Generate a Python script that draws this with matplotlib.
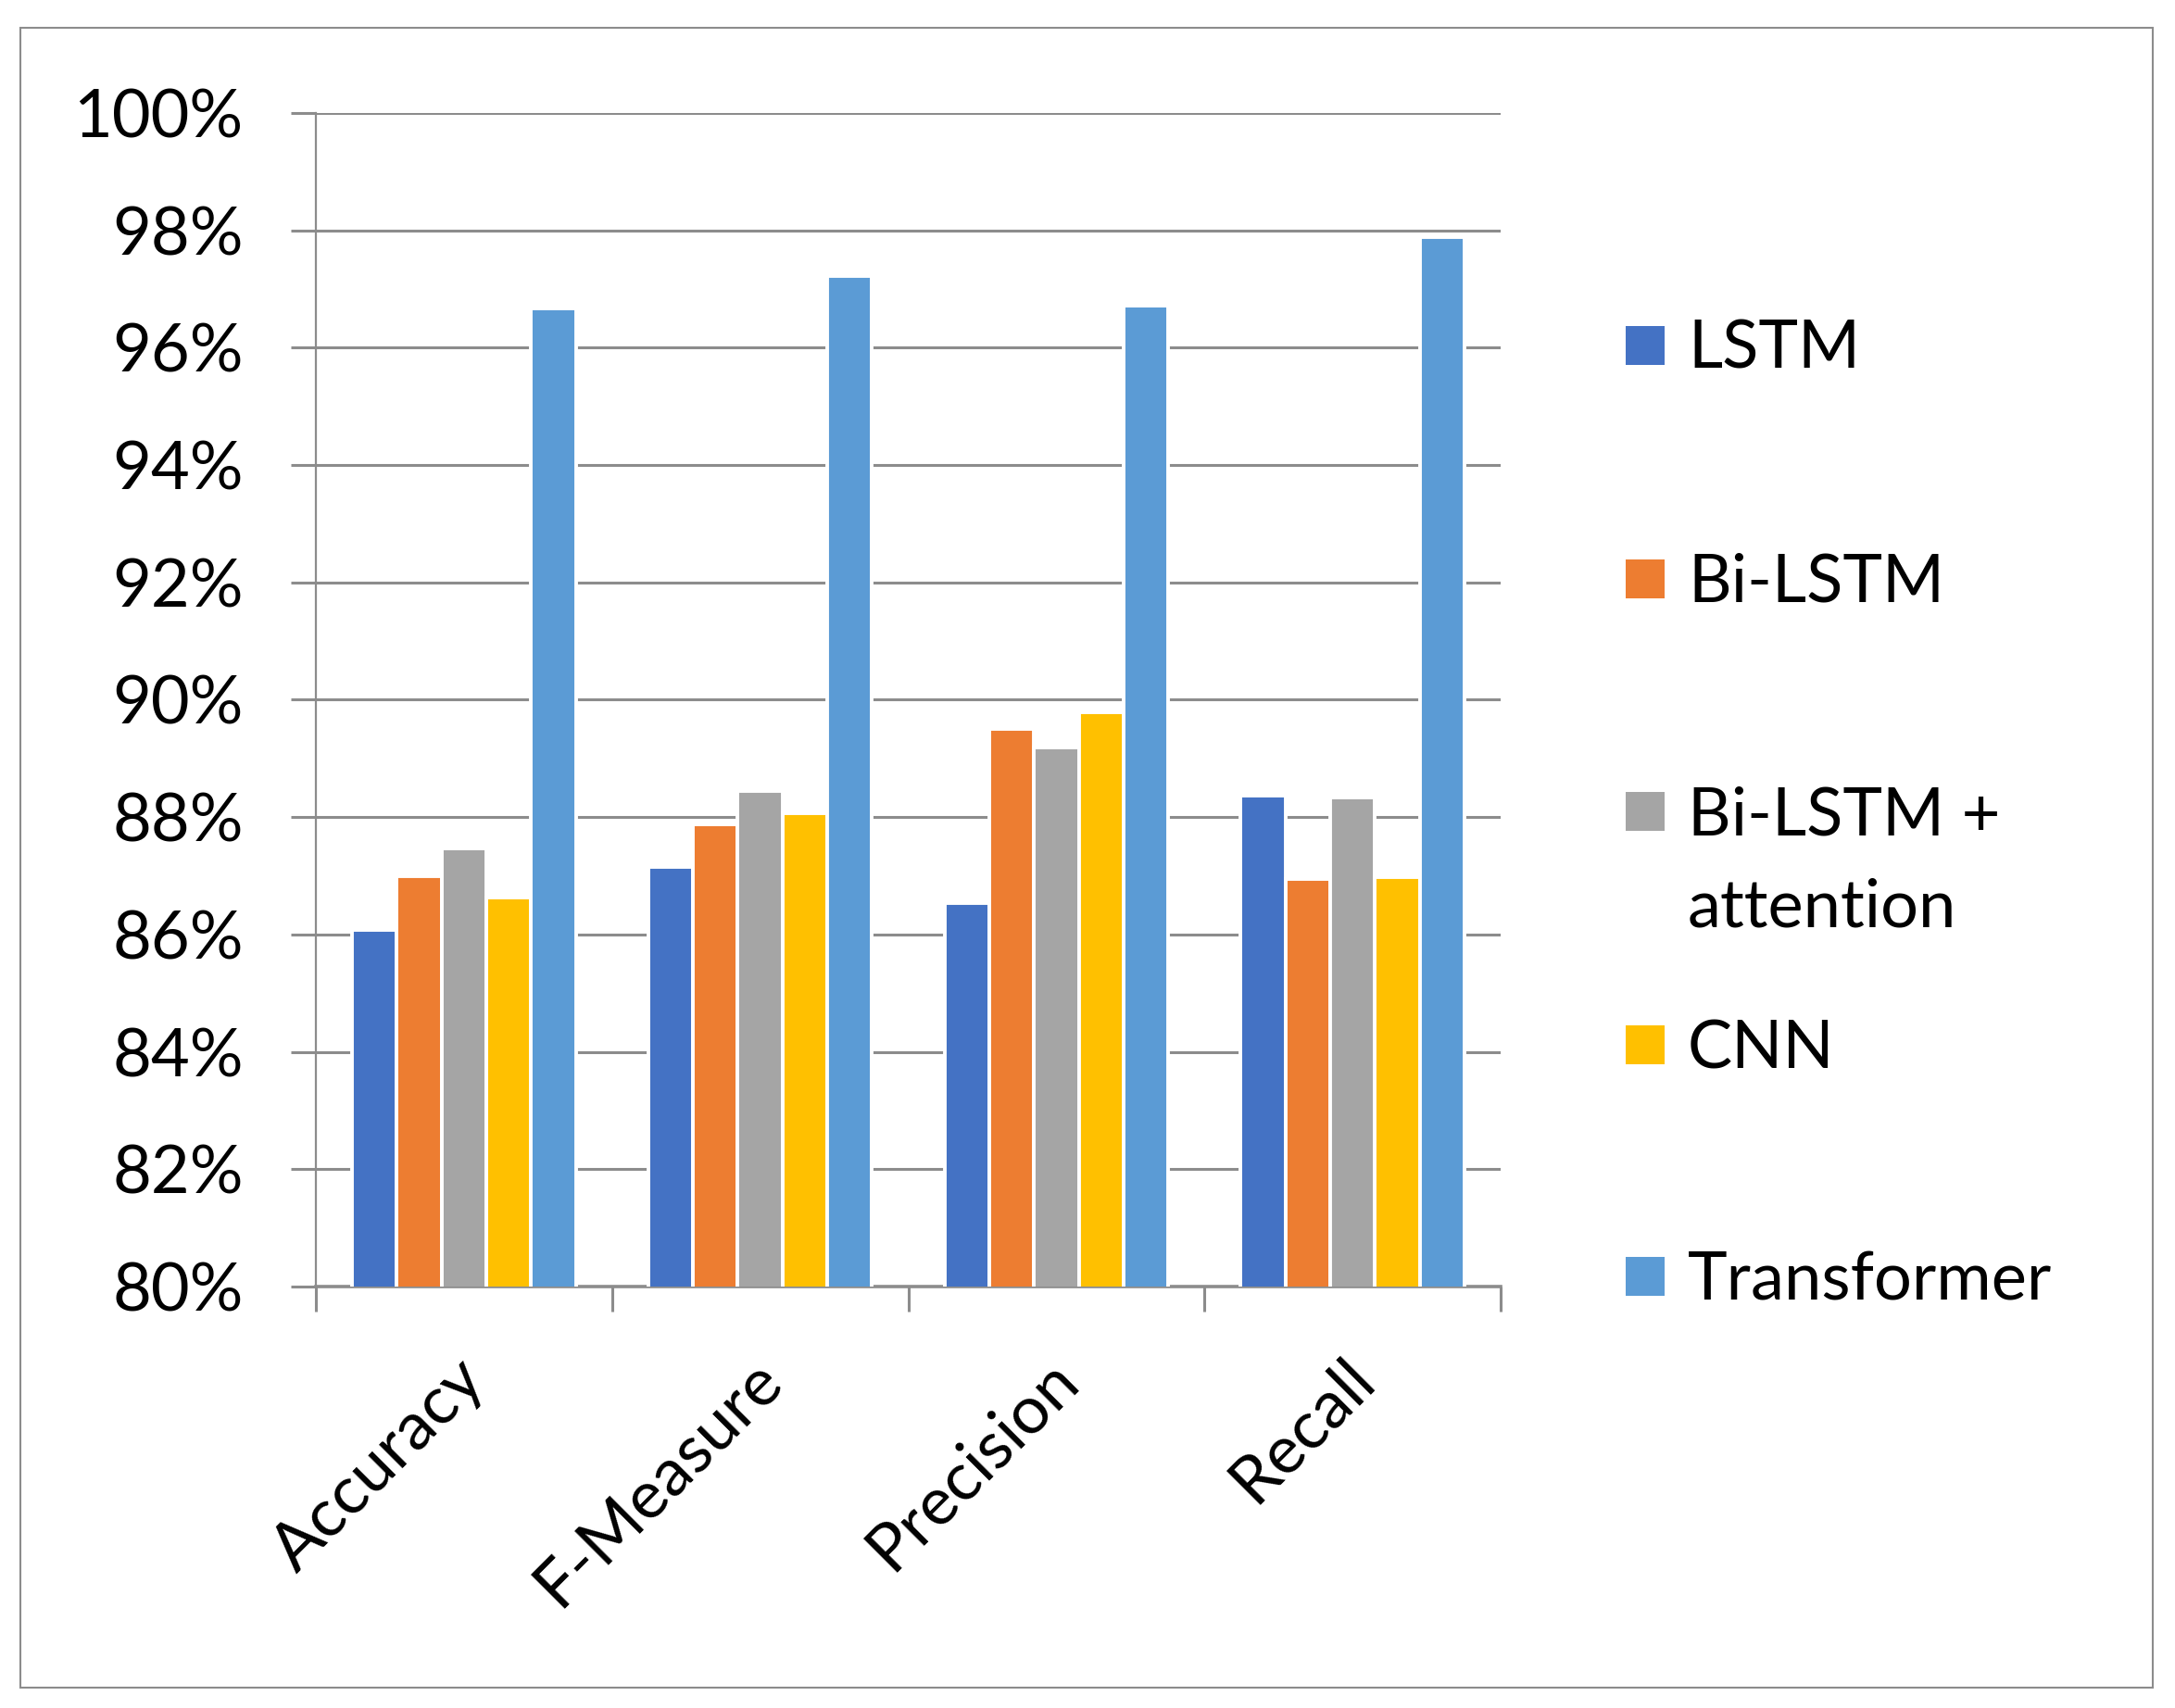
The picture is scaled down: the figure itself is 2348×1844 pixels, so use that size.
import matplotlib
matplotlib.use('Agg')
import matplotlib.pyplot as plt
import matplotlib.transforms as mtransforms
from matplotlib.patches import Rectangle
import numpy as np

plt.rcParams['font.family'] = ['Lato', 'DejaVu Sans']

# -------------------------- data --------------------------
categories = ['Accuracy', 'F-Measure', 'Precision', 'Recall']
models = ['LSTM', 'Bi-LSTM', 'Bi-LSTM +\nattention', 'CNN', 'Transformer']
lstm = [86.07, 87.15, 86.54, 88.36]
bilstm = [87.00, 87.87, 89.51, 86.94]
bilstm_att = [87.47, 88.45, 89.18, 88.33]
cnn = [86.63, 88.06, 89.78, 86.98]
transformer = [96.67, 97.22, 96.71, 97.88]
yticks = list(range(80, 101, 2))

series = [lstm, bilstm, bilstm_att, cnn, transformer]
colors = ['#4472C4', '#ED7D31', '#A5A5A5', '#FFC000', '#5B9BD5']
grey = '#8c8c8c'

# -------------------------- figure --------------------------
W, H = 2348, 1844
fig = plt.figure(figsize=(W / 100, H / 100), dpi=100)

def fx(p):
    return p / W

def fy(p):
    return 1 - p / H

ax = fig.add_axes([fx(341), fy(1389), (1620 - 341) / W, (1389 - 122) / H])

x = np.arange(len(categories))
slot = 0.151
for i, (vals, c) in enumerate(zip(series, colors)):
    ax.bar(x + (i - 2) * slot, vals, width=slot, color=c, edgecolor='white',
           linewidth=2.8, zorder=3)

ax.set_xlim(-0.5, len(categories) - 0.5)
ax.set_ylim(80, 100)
ax.set_yticks(yticks)
ax.set_yticklabels([f'{t}%' for t in yticks])
ax.yaxis.grid(True, color=grey, linewidth=2.2)
ax.set_axisbelow(True)

ax.spines['top'].set_visible(False)
ax.spines['right'].set_visible(False)
ax.spines['bottom'].set_color(grey)
ax.spines['bottom'].set_linewidth(2.6)
ax.spines['left'].set_color(grey)
ax.spines['left'].set_linewidth(1.6)

ax.tick_params(axis='y', labelsize=52, length=19.4, width=2.2, color=grey, pad=37)
ax.set_xticks(x)
ax.set_xticks(np.arange(-0.5, len(categories), 1.0), minor=True)
ax.tick_params(axis='x', which='major', length=0, labelsize=52, pad=64)
ax.tick_params(axis='x', which='minor', length=19.4, width=2.2, color=grey)
ax.set_xticklabels(categories, rotation=45, ha='right', va='center',
                   rotation_mode='anchor')
shift = mtransforms.ScaledTranslation(0.12, 0, fig.dpi_scale_trans)
for lbl in ax.get_xticklabels():
    lbl.set_transform(lbl.get_transform() + shift)

# -------------------------- legend --------------------------
leg_y = [373, 625, 876, 1128, 1378]
for name, c, yc in zip(models, colors, leg_y):
    fig.patches.append(Rectangle((fx(1755), fy(yc + 21)), 42 / W, 42 / H,
                                 transform=fig.transFigure, facecolor=c,
                                 edgecolor='none'))
    for k, line in enumerate(name.split('\n')):
        fig.text(fx(1822), fy(yc + 25 + k * 99), line, fontsize=52,
                 ha='left', va='baseline')

# outer border
fig.patches.append(Rectangle((fx(22), fy(1822)), (2324 - 22) / W, (1822 - 30) / H,
                             transform=fig.transFigure, facecolor='none',
                             edgecolor=grey, linewidth=1.5))

plt.savefig('out.png', dpi=100)
